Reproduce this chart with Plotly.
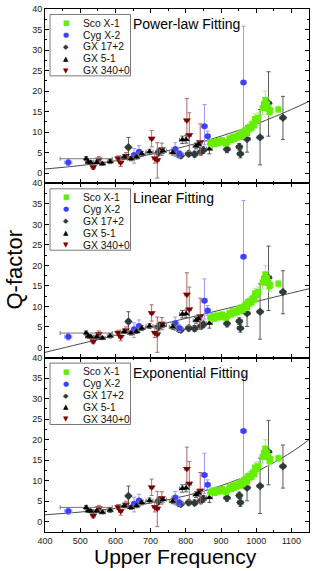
import plotly.graph_objects as go
from plotly.subplots import make_subplots

# ---------------- data ----------------
sco_f = [870, 876, 882, 888, 893, 898, 903, 908, 913, 918, 924, 929, 934, 938, 942, 946,
         950, 954, 958, 962, 966, 970, 974, 978, 982, 986, 990, 994, 997, 1002, 1006,
         1018, 1022, 1026, 1030, 1034, 1038, 1040, 1063]
sco_q = [7.2, 7.6, 7.0, 7.8, 7.3, 7.6, 8.0, 7.5, 7.2, 7.6, 8.4, 8.0, 8.8, 8.3, 8.9, 8.6,
         9.3, 8.8, 9.7, 9.2, 10.0, 10.5, 9.8, 10.8, 11.3, 10.9, 12.0, 11.6, 13.2, 12.8, 13.5,
         15.8, 16.8, 17.8, 16.9, 15.7, 14.9, 15.3, 15.5]
sco_err = [0.6, 0.6, 0.5, 0.6, 0.5, 0.6, 0.6, 0.5, 0.5, 0.6, 0.7, 0.6, 0.7, 0.6, 0.7, 0.6,
           0.7, 0.6, 0.8, 0.7, 0.8, 0.9, 0.8, 0.9, 1.0, 0.9, 1.0, 1.0, 1.2, 1.1, 1.2,
           1.5, 1.6, 2.2, 1.6, 1.4, 1.3, 1.3, 0.8]

cyg_f = [466, 653, 667, 770, 782, 853, 862, 964]
cyg_q = [2.6, 4.4, 5.2, 5.9, 4.7, 11.4, 9.0, 22.1]
cyg_ep = [0.8, 1.6, 1.5, 1.5, 0.8, 5.3, 1.2, 13.7]
cyg_em = [0.8, 2.0, 1.5, 1.8, 0.8, 4.5, 1.2, 13.0]
cyg_xe = [10, 8, 8, 10, 10, 8, 8, 8]

gx17_f = [637, 722, 779, 786, 808, 825, 843, 850, 917, 952, 955, 974, 1011, 1035, 1076]
gx17_q = [6.3, 5.0, 4.5, 4.3, 4.7, 4.6, 5.2, 5.6, 5.8, 6.4, 4.7, 8.3, 8.7, 17.0, 13.5]
gx17_ep = [2.4, 0.8, 0.6, 0.6, 0.7, 0.7, 0.8, 0.8, 0.8, 0.8, 1.0, 3.3, 6.8, 7.7, 5.2]
gx17_em = [2.4, 0.8, 0.6, 0.6, 0.7, 0.7, 0.8, 0.8, 0.8, 0.8, 1.0, 3.2, 6.7, 8.0, 5.3]
gx17_xe = [6, 8, 8, 8, 8, 8, 8, 8, 8, 8, 8, 8, 8, 8, 8]

gx5_f = [517, 523, 530, 547, 563, 585, 625, 644, 660, 675, 697, 735, 763, 790, 801, 829, 836, 867]
gx5_q = [3.5, 2.7, 2.6, 2.6, 2.3, 2.8, 3.9, 3.5, 3.9, 4.7, 5.2, 5.4, 5.0, 8.1, 8.2, 6.6, 7.0, 5.9]
gx5_e = [0.5, 0.4, 0.4, 0.4, 0.4, 0.5, 0.5, 0.5, 0.5, 0.6, 0.6, 0.6, 0.6, 0.9, 0.9, 0.7, 0.7, 1.2]
gx5_xe = [74, 8, 8, 8, 8, 8, 10, 10, 8, 10, 10, 10, 10, 8, 8, 8, 8, 8]

gx340_f = [537, 553, 608, 615, 630, 703, 712, 719, 732, 803, 810, 841]
gx340_q = [1.5, 3.3, 3.6, 2.6, 4.2, 8.4, 3.6, 3.2, 5.8, 12.9, 9.3, 7.6]
gx340_ep = [0.6, 0.7, 0.6, 1.0, 0.8, 2.0, 1.2, 4.2, 1.5, 5.3, 5.4, 4.4]
gx340_em = [0.6, 0.7, 0.6, 1.0, 0.8, 2.0, 1.2, 4.4, 1.5, 3.5, 4.0, 3.2]

# fit curves at these frequencies
fit_f = [400, 500, 600, 700, 800, 900, 1000, 1100, 1150]
fit_power = [1.0, 1.83, 3.0, 4.56, 6.54, 9.0, 11.96, 15.5, 17.5]
fit_linear = [-1.2, 0.87, 2.93, 5.0, 7.07, 9.13, 11.2, 13.27, 14.3]
fit_expo = [1.7, 2.36, 3.28, 4.56, 6.33, 8.79, 12.2, 16.95, 20.0]

panel_titles = ["Power-law Fitting", "Linear Fitting", "Exponential Fitting"]
fits = [fit_power, fit_linear, fit_expo]

series_names = ["Sco X-1", "Cyg X-2", "GX 17+2", "GX 5-1", "GX 340+0"]
series_colors = ["#66ee00", "#3f3fff", "#2f3a3a", "#000000", "#7a0000"]
series_glyph = ["\u25a0", "\u25cf", "\u25c6", "\u25b2", "\u25bc"]

FONT = "Liberation Sans, Arial, sans-serif"

fig = make_subplots(rows=3, cols=1, shared_xaxes=True, vertical_spacing=0)

for r in range(1, 4):
    fig.add_trace(go.Scatter(x=fit_f, y=fits[r - 1], mode="lines", line_shape="spline",
                             line=dict(color="#4a4a4a", width=1), showlegend=False,
                             hoverinfo="skip"), row=r, col=1)
    fig.add_trace(go.Scatter(x=gx17_f, y=gx17_q, mode="markers", showlegend=False,
                             marker=dict(symbol="diamond", size=6.5, color="#2f3a3a"),
                             error_y=dict(type="data", array=gx17_ep, arrayminus=gx17_em,
                                          color="#5a5a5a", thickness=1, width=2),
                             error_x=dict(type="data", array=gx17_xe, color="#5a5a5a",
                                          thickness=1, width=2)), row=r, col=1)
    fig.add_trace(go.Scatter(x=gx340_f, y=gx340_q, mode="markers", showlegend=False,
                             marker=dict(symbol="triangle-down", size=7, color="#7a0000"),
                             error_y=dict(type="data", array=gx340_ep, arrayminus=gx340_em,
                                          color="#b06a6a", thickness=1, width=2),
                             error_x=dict(type="data", array=[6] * len(gx340_f),
                                          color="#b06a6a", thickness=1, width=2)), row=r, col=1)
    fig.add_trace(go.Scatter(x=cyg_f, y=cyg_q, mode="markers", showlegend=False,
                             marker=dict(symbol="circle", size=6, color="#3f3fff"),
                             error_y=dict(type="data", array=cyg_ep, arrayminus=cyg_em,
                                          color="#9a9aff", thickness=1, width=2),
                             error_x=dict(type="data", array=cyg_xe, color="#9a9aff",
                                          thickness=1, width=2)), row=r, col=1)
    fig.add_trace(go.Scatter(x=gx5_f, y=gx5_q, mode="markers", showlegend=False,
                             marker=dict(symbol="triangle-up", size=6, color="#000000"),
                             error_y=dict(type="data", array=gx5_e, color="#555555",
                                          thickness=1, width=2),
                             error_x=dict(type="data", array=gx5_xe, color="#777777",
                                          thickness=1, width=2)), row=r, col=1)
    fig.add_trace(go.Scatter(x=sco_f, y=sco_q, mode="markers", showlegend=False,
                             marker=dict(symbol="square", size=6, color="#66ee00"),
                             error_y=dict(type="data", array=sco_err, color="#a6f57a",
                                          thickness=1, width=2)), row=r, col=1)

axis_common = dict(showline=True, linecolor="black", linewidth=1, mirror="allticks",
                   ticks="inside", ticklen=4, tickwidth=1, tickcolor="black",
                   showgrid=False, zeroline=False,
                   tickfont=dict(family=FONT, size=9, color="#222222"))

for r in range(1, 4):
    fig.update_yaxes(range=[-2.5, 40], tickvals=[0, 5, 10, 15, 20, 25, 30, 35, 40],
                     minor=dict(ticks="inside", ticklen=2, dtick=2.5, tick0=0,
                                tickcolor="black", showgrid=False),
                     **axis_common, row=r, col=1)
    fig.update_xaxes(range=[400, 1150], tickvals=[400, 500, 600, 700, 800, 900, 1000, 1100],
                     minor=dict(ticks="inside", ticklen=2, dtick=50, tick0=400,
                                tickcolor="black", showgrid=False),
                     **axis_common, row=r, col=1)

# paper geometry
L, R, T, B = 45, 6, 4, 39
W, H = 315, 571
pw, ph = W - L - R, H - T - B


def px_to_paper_x(px):
    return (px - L) / pw


def py_to_paper_y(py):
    return 1 - (py - T) / ph


annotations = []
shapes = []
panel_top = [T, T + ph / 3, T + 2 * ph / 3]
for i in range(3):
    top = panel_top[i]
    shapes.append(dict(type="rect", xref="paper", yref="paper",
                       x0=px_to_paper_x(50), x1=px_to_paper_x(130.5),
                       y0=py_to_paper_y(top + 67.5), y1=py_to_paper_y(top + 5.5),
                       line=dict(color="#777777", width=1), fillcolor="white", layer="above"))
    for k, (n, c, g) in enumerate(zip(series_names, series_colors, series_glyph)):
        yc = py_to_paper_y(top + 14.3 + 12.0 * k)
        annotations.append(dict(text=g, xref="paper", yref="paper", x=px_to_paper_x(66),
                                y=yc, xanchor="center", yanchor="middle", showarrow=False,
                                font=dict(family="DejaVu Sans", size=7, color=c)))
        annotations.append(dict(text=n, xref="paper", yref="paper", x=px_to_paper_x(81),
                                y=yc, xanchor="left", yanchor="middle", showarrow=False,
                                font=dict(family=FONT, size=10.3, color="#111111")))
    annotations.append(dict(text=panel_titles[i], xref="paper", yref="paper",
                            x=px_to_paper_x(131), y=py_to_paper_y(top + 15),
                            xanchor="left", yanchor="middle", showarrow=False,
                            font=dict(family=FONT, size=14, color="black")))

annotations.append(dict(text="Q-factor", xref="paper", yref="paper",
                        x=px_to_paper_x(14), y=0.5, xanchor="center", yanchor="middle",
                        textangle=-90, showarrow=False,
                        font=dict(family=FONT, size=22, color="black")))
annotations.append(dict(text="Upper Frequency", xref="paper", yref="paper",
                        x=px_to_paper_x(175), y=py_to_paper_y(557), xanchor="center",
                        yanchor="middle", showarrow=False,
                        font=dict(family=FONT, size=21, color="black")))

fig.update_layout(width=W, height=H, margin=dict(l=L, r=R, t=T, b=B),
                  paper_bgcolor="white", plot_bgcolor="white", showlegend=False,
                  font=dict(family=FONT), annotations=annotations, shapes=shapes)

fig.write_html("out.html", config={"displayModeBar": False},
               post_script="document.body.style.margin='0px';")
